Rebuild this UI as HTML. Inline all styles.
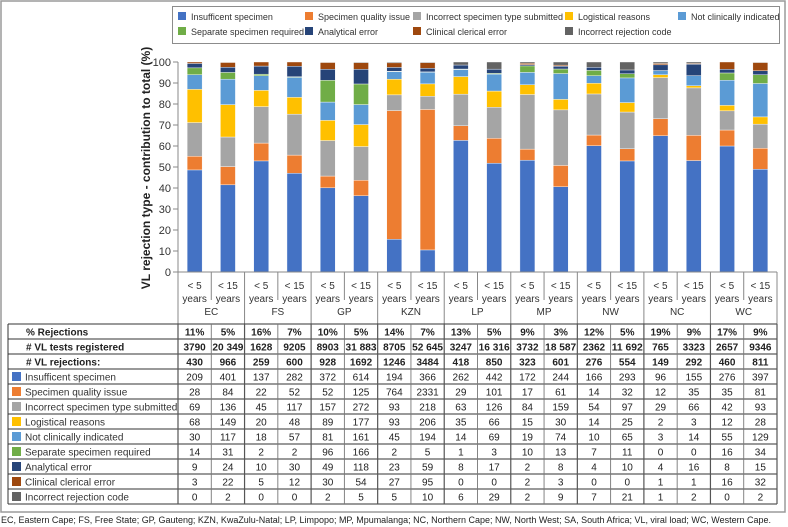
<!DOCTYPE html>
<html><head><meta charset="utf-8"><style>
body{margin:0;background:#fff;}
svg{display:block;font-family:"Liberation Sans",sans-serif;}
</style></head><body>
<svg id="chart" width="788" height="527" viewBox="0 0 788 527">
<rect x="1" y="1" width="784" height="511" fill="none" stroke="#9a9a9a" stroke-width="1.5"/>
<rect x="172.5" y="6.5" width="607" height="37" fill="#fff" stroke="#8c8c8c"/>
<g id="legend"></g>
<text transform="translate(150,168) rotate(-90)" text-anchor="middle" font-size="12" font-weight="bold" fill="#222">VL rejection type - contribution to total (%)</text>
<g id="yaxis"></g>
<g id="bars"></g>
<g id="xcats"></g>
<g id="table"></g>
<text x="1" y="523" font-size="9.6" fill="#222" textLength="770" lengthAdjust="spacingAndGlyphs">EC, Eastern Cape; FS, Free State; GP, Gauteng; KZN, KwaZulu-Natal; LP, Limpopo; MP, Mpumalanga; NC, Northern Cape; NW, North West; SA, South Africa; VL, viral load; WC, Western Cape.</text>
</svg>
<script>
const provinces = ["EC","FS","GP","KZN","LP","MP","NW","NC","WC"];
const ageGroups = ["< 5","< 15"];
const pctRejections = ["11%","5%","16%","7%","10%","5%","14%","7%","13%","5%","9%","3%","12%","5%","19%","9%","17%","9%"];
const testsRegistered = ["3790","20 349","1628","9205","8903","31 883","8705","52 645","3247","16 316","3732","18 587","2362","11 692","765","3323","2657","9346"];
const totalRejections = [430,966,259,600,928,1692,1246,3484,418,850,323,601,276,554,149,292,460,811];
const seriesNames = ["Insufficent specimen","Specimen quality issue","Incorrect specimen type submitted","Logistical reasons","Not clinically indicated","Separate specimen required","Analytical error","Clinical clerical error","Incorrect rejection code"];
const insufficient = [209,401,137,282,372,614,194,366,262,442,172,244,166,293,96,155,276,397];
const qualityIssue = [28,84,22,52,52,125,764,2331,29,101,17,61,14,32,12,35,35,81];
const incorrectType = [69,136,45,117,157,272,93,218,63,126,84,159,54,97,29,66,42,93];
const logistical = [68,149,20,48,89,177,93,206,35,66,15,30,14,25,2,3,12,28];
const notIndicated = [30,117,18,57,81,161,45,194,14,69,19,74,10,65,3,14,55,129];
const separate = [14,31,2,2,96,166,2,5,1,3,10,13,7,11,0,0,16,34];
const analytical = [9,24,10,30,49,118,23,59,8,17,2,8,4,10,4,16,8,15];
const clerical = [3,22,5,12,30,54,27,95,0,0,2,3,0,0,1,1,16,32];
const rejectionCode = [0,2,0,0,2,5,5,10,6,29,2,9,7,21,1,2,0,2];
const yTicks = [0,10,20,30,40,50,60,70,80,90,100];

const series = [insufficient,qualityIssue,incorrectType,logistical,notIndicated,separate,analytical,clerical,rejectionCode];
const colors = ["#4472C4","#ED7D31","#A5A5A5","#FFC000","#5B9BD5","#70AD47","#264478","#9E480E","#636363"];
const NS="http://www.w3.org/2000/svg";
function mk(tag,attrs,parent,txt){const e=document.createElementNS(NS,tag);for(const k in attrs)e.setAttribute(k,attrs[k]);if(txt!==undefined)e.textContent=txt;parent.appendChild(e);return e;}
const X0=178, X1=777, Y0=272, Y100=62;
const nCols = provinces.length*ageGroups.length;
const colW=(X1-X0)/nCols;
const yScale=v=>Y0-(v/100)*(Y0-Y100);
const xCol=i=>X0+i*colW;

// legend
const leg=document.getElementById('legend');
const legX=[178,305,413,565,678,178,305,413,565];
const legY=[17,17,17,17,17,32,32,32,32];
seriesNames.forEach((n,i)=>{
  const g=mk('g',{},leg);
  
  
  mk('rect',{x:legX[i],y:legY[i]-5,width:8,height:8,fill:colors[i]},g);
  mk('text',{x:legX[i]+13,y:legY[i]+3,'font-size':'9',fill:'#333'},g,n);
});

// y axis
const ya=document.getElementById('yaxis');
mk('line',{x1:X0,y1:Y100,x2:X0,y2:Y0,stroke:'#888'},ya);
yTicks.forEach(t=>{
  const y=yScale(t);
  mk('line',{x1:X0-5,y1:y,x2:X0,y2:y,stroke:'#888'},ya);
  const tx=mk('text',{x:X0-7,y:y+4,'text-anchor':'end','font-size':'11',fill:'#333'},ya,String(t));
  
  
});

// bars
const bg=document.getElementById('bars');
for(let c=0;c<nCols;c++){
  let tot=0; series.forEach(s=>tot+=s[c]);
  let acc=0;
  const bx=xCol(c)+colW/2-7.5;
  series.forEach((s,si)=>{
    const v=s[c]/tot*100;
    if(s[c]>0){
      const r=mk('rect',{x:bx,y:yScale(acc+v),width:15,height:yScale(acc)-yScale(acc+v),fill:colors[si],stroke:'#fff','stroke-width':'0.4'},bg);
      
      
    }
    acc+=v;
  });
}

// x categories
const xc=document.getElementById('xcats');
mk('line',{x1:X0-4,y1:Y0,x2:X1,y2:Y0,stroke:'#888'},xc);
for(let c=0;c<=nCols;c++){
  const x=xCol(c);
  if(c%2===0) mk('line',{x1:x,y1:Y0,x2:x,y2:324,stroke:'#888'},xc);
  else mk('line',{x1:x,y1:Y0,x2:x,y2:300,stroke:'#888'},xc);
}
for(let c=0;c<nCols;c++){
  const cx=xCol(c)+colW/2;
  const t1=mk('text',{x:cx,y:289,'text-anchor':'middle','font-size':'10',fill:'#333'},xc,ageGroups[c%2]);
  
  
  mk('text',{x:cx,y:302,'text-anchor':'middle','font-size':'10',fill:'#333'},xc,'years');
}
provinces.forEach((p,i)=>{
  const t=mk('text',{x:xCol(i*2+1),y:315,'text-anchor':'middle','font-size':'10',fill:'#333'},xc,p);
  
  
});

// table
const tb=document.getElementById('table');
const TL=8, TT=324, RH=15;
const rows=[["% Rejections",pctRejections,true,null],["# VL tests registered",testsRegistered,true,null],["# VL rejections:",totalRejections,true,null]];
seriesNames.forEach((n,i)=>rows.push([n,series[i],false,colors[i]]));
rows.forEach((r,ri)=>{
  const y=TT+ri*RH;
  const g=mk('g',{},tb);
  
  
  if(r[3]){
    mk('rect',{x:TL+4,y:y+3,width:9,height:9,fill:r[3]},g);
    mk('text',{x:TL+17,y:y+11.5,'font-size':'10',fill:'#333'},g,r[0]);
  } else {
    mk('text',{x:TL+18,y:y+11.5,'font-size':'10','font-weight':'bold',fill:'#222'},g,r[0]);
  }
  r[1].forEach((v,c)=>{
    const s=String(v);
    const a={x:xCol(c)+colW/2,y:y+11.5,'text-anchor':'middle','font-size':'10','font-weight':r[2]?'bold':'normal',fill:'#222'};
    if(r[2] && s.length>5){a.textLength='31';a.lengthAdjust='spacingAndGlyphs';}
    mk('text',a,g,s);
  });
});
const TB=TT+rows.length*RH;
for(let ri=0;ri<=rows.length;ri++) mk('line',{x1:TL,y1:TT+ri*RH,x2:X1,y2:TT+ri*RH,stroke:'#333','stroke-width':'0.9'},tb);
mk('line',{x1:TL,y1:TT,x2:TL,y2:TB,stroke:'#333'},tb);
for(let c=0;c<=nCols;c++) mk('line',{x1:xCol(c),y1:TT,x2:xCol(c),y2:TB,stroke:c%2===0?'#555':'#777','stroke-width':c%2===0?'1.2':'0.9'},tb);
</script>
</body></html>
